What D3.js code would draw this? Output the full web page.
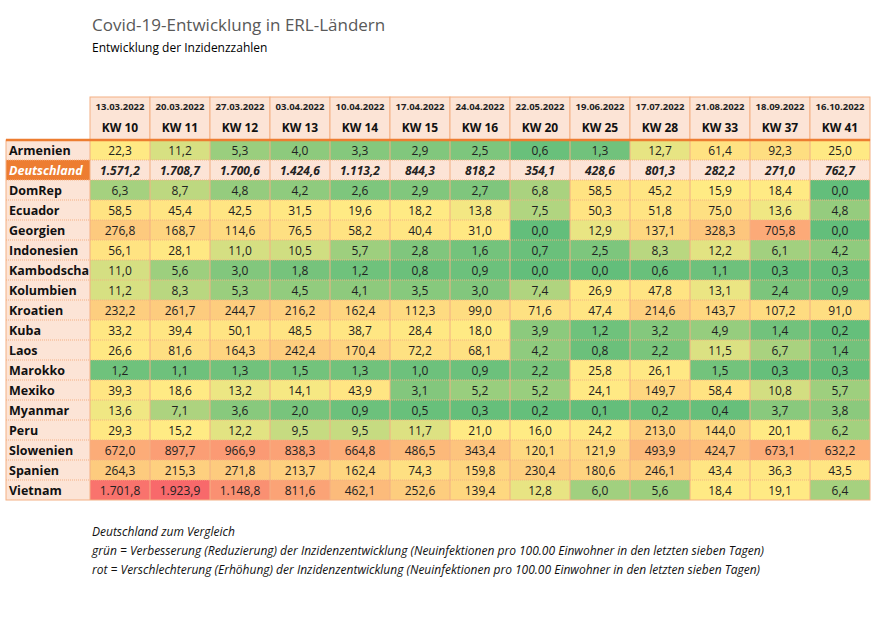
<!DOCTYPE html>
<html>
<head>
<meta charset="UTF-8">
<style>
  body { margin: 0; background: #fff; font-family: "Open Sans", "Noto Sans", sans-serif; }
  svg { display: block; }
</style>
</head>
<body>
<svg></svg>
<script src="https://d3js.org/d3.v7.min.js"></script>
<script>
const dates = ["13.03.2022","20.03.2022","27.03.2022","03.04.2022","10.04.2022","17.04.2022","24.04.2022","22.05.2022","19.06.2022","17.07.2022","21.08.2022","18.09.2022","16.10.2022"];
const weeks = ["KW 10","KW 11","KW 12","KW 13","KW 14","KW 15","KW 16","KW 20","KW 25","KW 28","KW 33","KW 37","KW 41"];
const countries = ["Armenien","Deutschland","DomRep","Ecuador","Georgien","Indonesien","Kambodscha","Kolumbien","Kroatien","Kuba","Laos","Marokko","Mexiko","Myanmar","Peru","Slowenien","Spanien","Vietnam"];
const values = [
  [22.3,11.2,5.3,4.0,3.3,2.9,2.5,0.6,1.3,12.7,61.4,92.3,25.0],
  [1571.2,1708.7,1700.6,1424.6,1113.2,844.3,818.2,354.1,428.6,801.3,282.2,271.0,762.7],
  [6.3,8.7,4.8,4.2,2.6,2.9,2.7,6.8,58.5,45.2,15.9,18.4,0.0],
  [58.5,45.4,42.5,31.5,19.6,18.2,13.8,7.5,50.3,51.8,75.0,13.6,4.8],
  [276.8,168.7,114.6,76.5,58.2,40.4,31.0,0.0,12.9,137.1,328.3,705.8,0.0],
  [56.1,28.1,11.0,10.5,5.7,2.8,1.6,0.7,2.5,8.3,12.2,6.1,4.2],
  [11.0,5.6,3.0,1.8,1.2,0.8,0.9,0.0,0.0,0.6,1.1,0.3,0.3],
  [11.2,8.3,5.3,4.5,4.1,3.5,3.0,7.4,26.9,47.8,13.1,2.4,0.9],
  [232.2,261.7,244.7,216.2,162.4,112.3,99.0,71.6,47.4,214.6,143.7,107.2,91.0],
  [33.2,39.4,50.1,48.5,38.7,28.4,18.0,3.9,1.2,3.2,4.9,1.4,0.2],
  [26.6,81.6,164.3,242.4,170.4,72.2,68.1,4.2,0.8,2.2,11.5,6.7,1.4],
  [1.2,1.1,1.3,1.5,1.3,1.0,0.9,2.2,25.8,26.1,1.5,0.3,0.3],
  [39.3,18.6,13.2,14.1,43.9,3.1,5.2,5.2,24.1,149.7,58.4,10.8,5.7],
  [13.6,7.1,3.6,2.0,0.9,0.5,0.3,0.2,0.1,0.2,0.4,3.7,3.8],
  [29.3,15.2,12.2,9.5,9.5,11.7,21.0,16.0,24.2,213.0,144.0,20.1,6.2],
  [672.0,897.7,966.9,838.3,664.8,486.5,343.4,120.1,121.9,493.9,424.7,673.1,632.2],
  [264.3,215.3,271.8,213.7,162.4,74.3,159.8,230.4,180.6,246.1,43.4,36.3,43.5],
  [1701.8,1923.9,1148.8,811.6,462.1,252.6,139.4,12.8,6.0,5.6,18.4,19.1,6.4]
];
const notes = [
  "Deutschland zum Vergleich",
  "grün = Verbesserung (Reduzierung) der Inzidenzentwicklung (Neuinfektionen pro 100.00 Einwohner in den letzten sieben Tagen)",
  "rot = Verschlechterung (Erhöhung) der Inzidenzentwicklung (Neuinfektionen pro 100.00 Einwohner in den letzten sieben Tagen)"
];

const width = 881, height = 629;
const svg = d3.select("svg").attr("width", width).attr("height", height);

const left = 6, labelW = 84, colW = 60, topY = 140, rowH = 20;
const x = d3.scaleBand().domain(weeks).range([left + labelW, left + labelW + colW * weeks.length]);
const y = d3.scaleBand().domain(countries).range([topY, topY + rowH * countries.length]);

const greenSide = d3.scaleLinear().domain([0, 15]).range(["#63BE7B", "#FFEB84"]).clamp(true);
const redSide = d3.scalePow().exponent(0.65).domain([15, 1923.9]).range(["#FFEB84", "#F8696B"]).clamp(true);
const color = v => v <= 15 ? greenSide(v) : redSide(v);
const fmt = v => d3.format(",.1f")(v).replace(/,/g, "#").replace(".", ",").replace(/#/g, ".");

const orange = "#F4B084";
const peach = "#FCE4D6";

svg.append("text").attr("x", 92).attr("y", 31).attr("font-size", 17).attr("fill", "#595959").text("Covid-19-Entwicklung in ERL-Ländern");
svg.append("text").attr("x", 92).attr("y", 52).attr("font-size", 12).attr("fill", "#000").text("Entwicklung der Inzidenzzahlen");

// header
const head = svg.append("g");
head.selectAll("rect").data(weeks).enter().append("rect")
  .attr("x", d => x(d)).attr("y", 97).attr("width", colW).attr("height", topY - 97)
  .attr("fill", peach).attr("stroke", orange);
head.selectAll(".date").data(dates).enter().append("text")
  .attr("x", (d, i) => x(weeks[i]) + colW / 2).attr("y", 110).attr("text-anchor", "middle")
  .attr("font-size", 9.5).attr("font-weight", "bold").attr("fill", "#222").text(d => d);
head.selectAll(".kw").data(weeks).enter().append("text")
  .attr("x", d => x(d) + colW / 2).attr("y", 132).attr("text-anchor", "middle")
  .attr("font-size", 12).attr("font-weight", "bold").attr("fill", "#111").text(d => d);

// cells
const rows = svg.append("g").selectAll("g").data(countries).enter().append("g");
rows.append("rect")
  .attr("x", left).attr("y", d => y(d)).attr("width", labelW).attr("height", rowH)
  .attr("fill", d => d === "Deutschland" ? "#ED7D31" : peach);
rows.append("text")
  .attr("x", left + 3).attr("y", d => y(d) + 15)
  .attr("font-size", 12.5).attr("font-weight", "bold")
  .attr("font-style", d => d === "Deutschland" ? "italic" : "normal")
  .attr("fill", d => d === "Deutschland" ? "#fff" : "#111").text(d => d);

rows.each(function (c, r) {
  const g = d3.select(this);
  const de = c === "Deutschland";
  g.selectAll(".cell").data(values[r]).enter().append("rect")
    .attr("x", (d, i) => x(weeks[i])).attr("y", y(c)).attr("width", colW).attr("height", rowH)
    .attr("fill", d => de ? peach : color(d));
  g.selectAll(".val").data(values[r]).enter().append("text")
    .attr("x", (d, i) => x(weeks[i]) + colW / 2).attr("y", y(c) + 15).attr("text-anchor", "middle")
    .attr("font-size", 12).attr("fill", "#222")
    .attr("font-weight", de ? "bold" : "normal").attr("font-style", de ? "italic" : "normal")
    .text(d => fmt(d));
});

// grid lines
const right = left + labelW + colW * weeks.length;
const grid = svg.append("g");
grid.selectAll(".h").data(countries.slice(1)).enter().append("line")
  .attr("x1", left).attr("x2", right).attr("y1", d => y(d)).attr("y2", d => y(d))
  .attr("stroke", orange).attr("stroke-dasharray", "1,1");
grid.selectAll(".v").data(weeks).enter().append("line")
  .attr("x1", d => x(d)).attr("x2", d => x(d)).attr("y1", topY).attr("y2", topY + rowH * countries.length)
  .attr("stroke", orange);
grid.append("rect").attr("x", left).attr("y", topY).attr("width", right - left).attr("height", rowH * countries.length)
  .attr("fill", "none").attr("stroke", orange);
grid.append("line").attr("x1", left).attr("x2", right).attr("y1", topY).attr("y2", topY)
  .attr("stroke", "#ED7D31").attr("stroke-width", 2.5);

svg.append("g").selectAll("text").data(notes).enter().append("text")
  .attr("x", 92).attr("y", (d, i) => 536 + i * 19).attr("font-size", 12).attr("font-style", "italic")
  .attr("fill", "#111").text(d => d);
</script>
</body>
</html>
